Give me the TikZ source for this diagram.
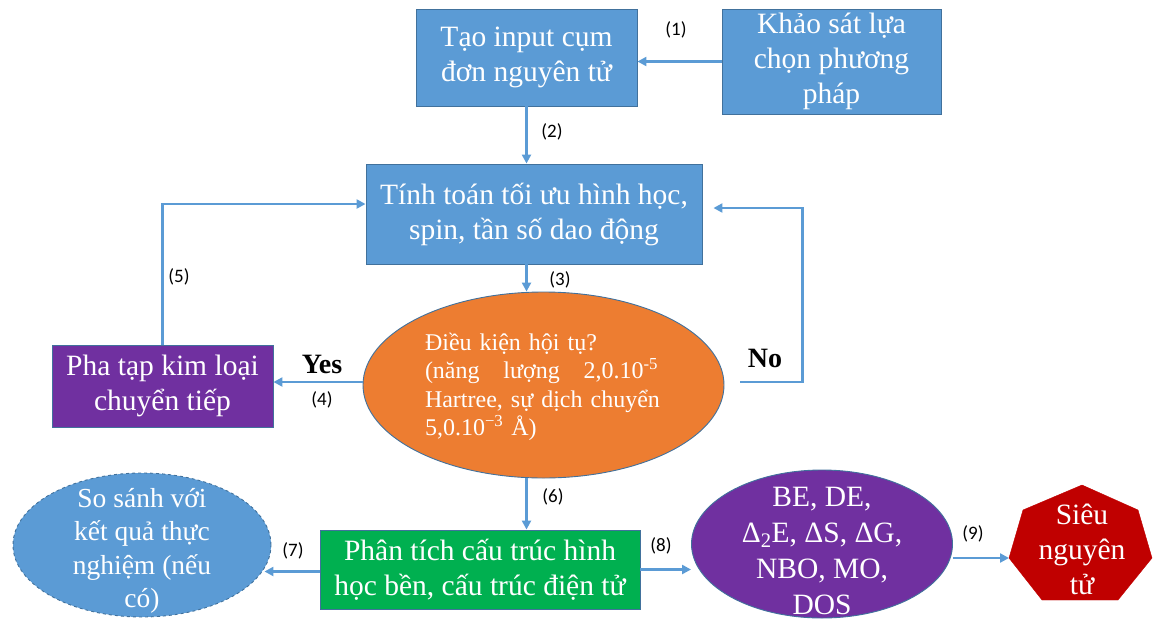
\documentclass[tikz,border=0pt]{standalone}
\usepackage{fontspec}
\setmainfont{Liberation Serif}
\newfontfamily\labfont{Carlito}
\usetikzlibrary{shapes.geometric,arrows.meta}
\definecolor{pblue}{HTML}{5B9BD5}
\definecolor{pedge}{HTML}{41719C}
\definecolor{porange}{HTML}{ED7D31}
\definecolor{ppurple}{HTML}{7030A0}
\definecolor{pgreen}{HTML}{00B050}
\definecolor{pred}{HTML}{C00000}
\begin{document}
\begin{tikzpicture}[x=1pt,y=-1pt,
  box/.style={draw=pedge, line width=0.9pt, text=white, align=center, inner sep=0pt, font=\fontsize{29.5}{35}\selectfont},
  oval/.style={ellipse, draw=pedge, line width=0.9pt, inner sep=0pt},
  txt/.style={text=white, align=center, inner sep=0pt, font=\fontsize{29.5}{35}\selectfont},
  arr/.style={draw=pblue, line width=2.4pt, -{Triangle[length=9pt,width=9pt]}},
  lab/.style={font=\labfont\fontsize{19}{22}\selectfont, text=black, inner sep=0pt},
  yn/.style={font=\bfseries\fontsize{28}{32}\selectfont, text=black, inner sep=0pt}
]
\useasboundingbox (0,0) rectangle (1154,619);

% boxes
\node[box, fill=pblue, minimum width=221pt, minimum height=97pt] (A) at (526.5,57.5) {Tạo input cụm\\đơn nguyên tử};
\node[box, fill=pblue, minimum width=219pt, minimum height=105pt] (B) at (831.5,61.5) {Khảo sát lựa\\chọn phương\\pháp};
\node[box, fill=pblue, minimum width=336pt, minimum height=100pt] (C) at (534,214) {Tính toán tối ưu hình học,\\spin, tần số dao động};
\node[box, fill=ppurple, minimum width=221pt, minimum height=82pt] (E) at (162.5,386) {Pha tạp kim loại\\chuyển tiếp};
\node[box, fill=pgreen, minimum width=320pt, minimum height=79pt] (F) at (480,569.5) {Phân tích cấu trúc hình\\học bền, cấu trúc điện tử};

% ellipses
\node[oval, fill=porange, minimum width=361pt, minimum height=186pt] (D) at (543.5,385) {};
\node[txt, text width=250pt, align=left, font=\fontsize{24}{28.5}\selectfont] (Dt) at (550,387)
  {Điều kiện hội tụ?\\\makebox[233pt][s]{(năng\hfill lượng\hfill 2,0.10\textsuperscript{-5}}\\Hartree, sự dịch chuyển\\5,0.10\textsuperscript{−3} Å)};
\node[oval, fill=pblue, dashed, minimum width=258pt, minimum height=144pt] (G) at (142,545) {};
\node[txt, font=\fontsize{27.5}{33.5}\selectfont] (Gt) at (142,551) {So sánh với\\kết quả thực\\nghiệm (nếu\\có)};
\node[oval, fill=ppurple, minimum width=261pt, minimum height=148pt] (H) at (822,544) {};
\node[txt, font=\fontsize{29.5}{36}\selectfont] (Ht) at (822,551) {BE, DE,\\Δ\textsubscript{2}E, ΔS, ΔG,\\NBO, MO,\\DOS};

% heptagon
\filldraw[fill=pred, draw=pred] (1082,485) -- (1138,510) -- (1152,558) -- (1118,600) -- (1042,600) -- (1009,558) -- (1023,510) -- cycle;
\coordinate (Iw) at (1009,558);
\node[txt] (I) at (1082,549) {Siêu\\nguyên\\tử};

% connectors
\draw[arr] (B.west) -- (B.west -| A.east);
\draw[arr] (A.south) -- (A.south |- C.north);
\draw[arr] (A.south |- C.south) -- (A.south |- D.north);
\draw[arr] ([yshift=3pt]D.west) -- ([yshift=3pt]D.west -| E.east);
\draw[arr] (E.north) |- ([yshift=10pt]C.west);
\draw[arr] ([xshift=16pt,yshift=3pt]D.east) -- ++(62,0) |- ([xshift=11pt,yshift=6pt]C.east);
\draw[arr] (A.south |- D.south) -- (A.south |- F.north);
\draw[arr] ([yshift=-2pt]F.west) -- ([yshift=-2pt,xshift=-7pt]F.west -| G.east);
\draw[arr] (F.east) -- (F.east -| H.west);
\draw[arr] (Iw -| H.east) -- (Iw);

% labels
\node[lab] (l1) at (676,30) {(1)};
\node[lab] (l2) at (552,132) {(2)};
\node[lab] (l3) at (560,280) {(3)};
\node[lab] (l4) at (322,400) {(4)};
\node[lab] (l5) at (179,277) {(5)};
\node[lab] (l6) at (553,497) {(6)};
\node[lab] (l7) at (293,551) {(7)};
\node[lab] (l8) at (661,546) {(8)};
\node[lab] (l9) at (973,534) {(9)};
\node[yn] (yes) at (322,364) {Yes};
\node[yn] (no) at (765,358) {No};
\end{tikzpicture}
\end{document}
